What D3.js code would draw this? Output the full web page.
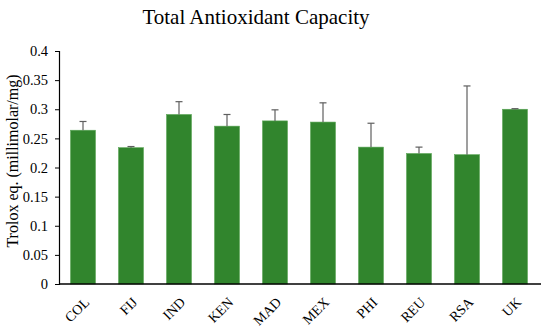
<!DOCTYPE html>
<html>
<head>
<meta charset="utf-8">
<script src="https://cdn.jsdelivr.net/npm/d3@7"></script>
<style>
  body { margin: 0; background: #fff; }
  text { font-family: "Liberation Serif", "Times New Roman", serif; }
</style>
</head>
<body>
<div id="chart"></div>
<script>
// datos
var paises = ["COL", "FIJ", "IND", "KEN", "MAD", "MEX", "PHI", "REU", "RSA", "UK"];
var valores = [0.264, 0.234, 0.291, 0.271, 0.280, 0.278, 0.235, 0.224, 0.222, 0.300];
var errores = [0.015, 0.002, 0.022, 0.020, 0.019, 0.033, 0.041, 0.011, 0.118, 0.001];
var ticksY = [0, 0.05, 0.1, 0.15, 0.2, 0.25, 0.3, 0.35, 0.4];

var colorBarra = "#31852d";
var colorError = "#5f5f5f";

var width = 550, height = 329;
var margin = { top: 51, right: 10, bottom: 45, left: 59 };

var svg = d3.select("#chart")
    .append("svg")
    .attr("width", width)
    .attr("height", height);

// titulo
svg.append("text")
    .attr("x", 256)
    .attr("y", 17)
    .attr("text-anchor", "middle")
    .attr("dominant-baseline", "central")
    .attr("font-size", "21px")
    .text("Total Antioxidant Capacity");

var x = d3.scaleBand()
    .domain(paises)
    .range([margin.left, 539])
    .paddingInner(0.48)
    .paddingOuter(0.24);

var y = d3.scaleLinear()
    .domain([0, 0.4])
    .range([284, margin.top]);

// barras
svg.selectAll("rect.bar")
    .data(paises)
    .enter()
    .append("rect")
    .attr("class", "bar")
    .attr("x", function (d) { return x(d); })
    .attr("y", function (d, i) { return y(valores[i]); })
    .attr("width", x.bandwidth())
    .attr("height", function (d, i) { return y(0) - y(valores[i]); })
    .attr("fill", colorBarra)
    .attr("stroke", "#5aa556")
    .attr("stroke-width", 0.6);

// barras de error (solo hacia arriba)
var gErr = svg.selectAll("g.err")
    .data(paises)
    .enter()
    .append("g")
    .attr("class", "err")
    .attr("stroke", colorError)
    .attr("stroke-width", 1.2);

gErr.append("line")
    .attr("x1", function (d) { return x(d) + x.bandwidth() / 2; })
    .attr("x2", function (d) { return x(d) + x.bandwidth() / 2; })
    .attr("y1", function (d, i) { return y(valores[i]); })
    .attr("y2", function (d, i) { return y(valores[i] + errores[i]); });

gErr.append("line")
    .attr("x1", function (d) { return x(d) + x.bandwidth() / 2 - 3.5; })
    .attr("x2", function (d) { return x(d) + x.bandwidth() / 2 + 3.5; })
    .attr("y1", function (d, i) { return y(valores[i] + errores[i]); })
    .attr("y2", function (d, i) { return y(valores[i] + errores[i]); });

// eje y
var ejeY = svg.append("g")
    .attr("transform", "translate(" + margin.left + ",0)")
    .call(d3.axisLeft(y)
        .tickValues(ticksY)
        .tickSize(4)
        .tickPadding(7)
        .tickFormat(function (d) { return String(+d.toFixed(2)); }));
ejeY.select(".domain").attr("stroke", "#000").attr("stroke-width", 1.2);
ejeY.selectAll(".tick line").attr("stroke", "#000");
ejeY.selectAll(".tick text")
    .attr("font-family", "Liberation Serif")
    .attr("font-size", "14.5px")
    .attr("fill", "#000");

// eje x
var ejeX = svg.append("g")
    .attr("transform", "translate(0," + y(0) + ")")
    .call(d3.axisBottom(x).tickSize(0).tickPadding(0));
ejeX.select(".domain")
    .attr("d", "M" + margin.left + ",0H541")
    .attr("stroke", "#000")
    .attr("stroke-width", 1.4);
ejeX.selectAll(".tick text")
    .attr("font-family", "Liberation Serif")
    .attr("font-size", "14px")
    .attr("fill", "#000")
    .attr("text-anchor", "end")
    .attr("dy", null)
    .attr("dominant-baseline", "central")
    .attr("transform", "translate(4,16) rotate(-45)");

// titulo eje y
svg.append("text")
    .attr("transform", "translate(12,161) rotate(-90)")
    .attr("text-anchor", "middle")
    .attr("dominant-baseline", "central")
    .attr("font-size", "16px")
    .text("Trolox eq. (millimolar/mg)");
</script>
</body>
</html>
